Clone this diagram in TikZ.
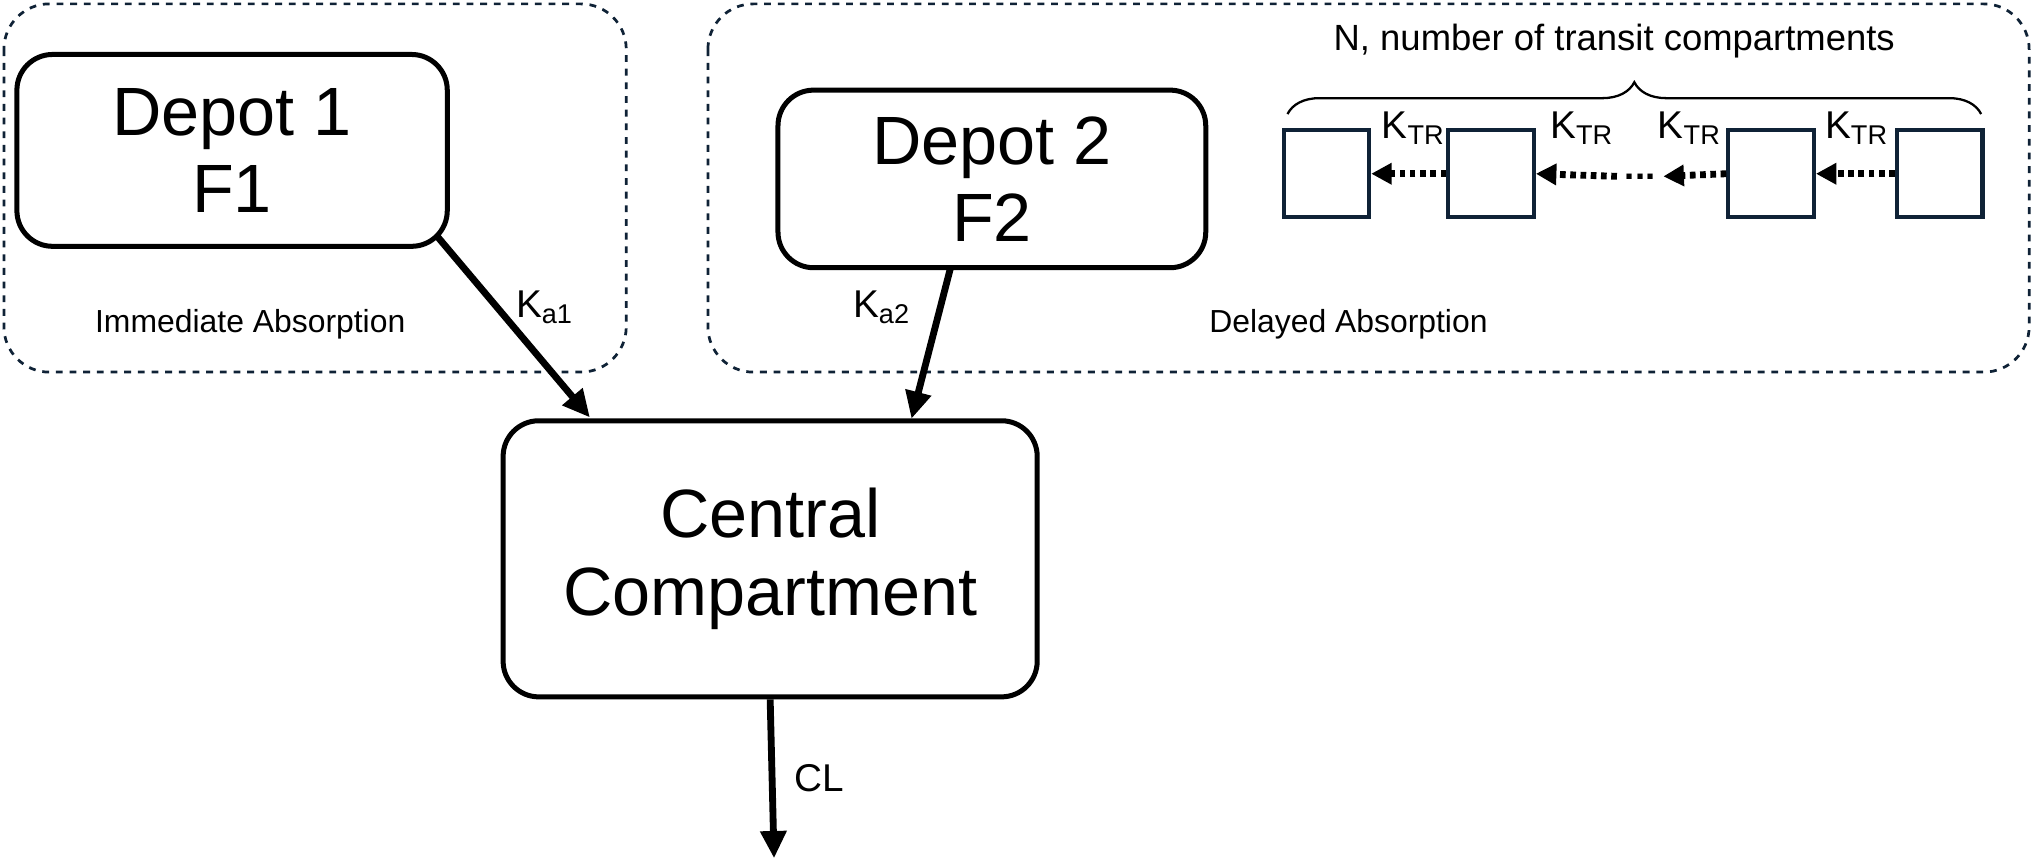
\documentclass[tikz,border=0pt]{standalone}
\usepackage{fontspec}
\setmainfont{Liberation Sans}
\usetikzlibrary{arrows.meta,decorations.pathreplacing}
\definecolor{navy}{HTML}{0F2236}
\begin{document}
\begin{tikzpicture}[x=0.02cm,y=-0.02cm,
  grp/.style={draw=navy,dashed,line width=1.2pt,rounded corners=0.7cm},
  big/.style={draw,line width=2.2pt,rounded corners=0.55cm,align=center,font=\fontsize{30}{34}\selectfont,inner sep=0pt},
  tbox/.style={draw=navy,line width=1.8pt,minimum width=1.32cm,minimum height=1.34cm,inner sep=0pt},
  flow/.style={-{Triangle[length=12pt,width=11pt]},line width=3pt},
  dflow/.style={-{Triangle[length=9pt,width=9pt]},line width=3pt,dash pattern=on 2.5pt off 2pt},
  lab/.style={font=\fontsize{17}{20}\selectfont,inner sep=1pt},
  small/.style={font=\fontsize{14}{17}\selectfont}]
\useasboundingbox (0,0) rectangle (1568,665);
\draw[grp] (3,3) rectangle (483,287);
\draw[grp] (546,3) rectangle (1565,287);
\node[big,minimum width=6.64cm,minimum height=2.96cm] (d1) at (179,116) {Depot 1\\F1};
\node[big,minimum width=6.6cm,minimum height=2.74cm] (d2) at (765,138) {Depot 2\\F2};
\node[big,minimum width=8.24cm,minimum height=4.26cm] (c) at (594,431) {Central\\Compartment};
\node[small] (ia) at (193,250) {Immediate Absorption};
\node[small] (da) at (1040,250) {Delayed Absorption};
\node[tbox] (t1) at (1023,134) {};
\node[tbox] (t2) at (1150,134) {};
\node[tbox] (t3) at (1366,134) {};
\node[tbox] (t4) at (1496,134) {};
\draw[dflow] (t2.west) -- (t1.east);
\draw[dflow] (t4.west) -- (t3.east);
\node[font=\fontsize{16}{18}\selectfont\bfseries] (dots) at (1265,136) {...};
\draw[dflow] (t3.west) -- (dots.east);
\draw[dflow] (dots.west) -- (t2.east);
\node[lab] at (1090,99) {K\textsubscript{TR}};
\node[lab] at (1220,99) {K\textsubscript{TR}};
\node[lab] at (1303,99) {K\textsubscript{TR}};
\node[lab] at (1432,99) {K\textsubscript{TR}};
\draw[decorate,decoration={brace,amplitude=14pt},line width=1pt] (993,88) -- (1528,88);
\node[font=\fontsize{16}{19}\selectfont] (nt) at (1245,32) {N, number of transit compartments};
\draw[flow] (d1.south east) ++(-10,-10) -- (455,322);
\draw[flow] (733,207) -- (703,323);
\coordinate (end) at (597,662);
\draw[flow] (c.south) -- (end);
\node[lab] at (420,237) {K\textsubscript{a1}};
\node[lab] at (680,237) {K\textsubscript{a2}};
\node[lab] at (632,600) {CL};
\end{tikzpicture}
\end{document}
